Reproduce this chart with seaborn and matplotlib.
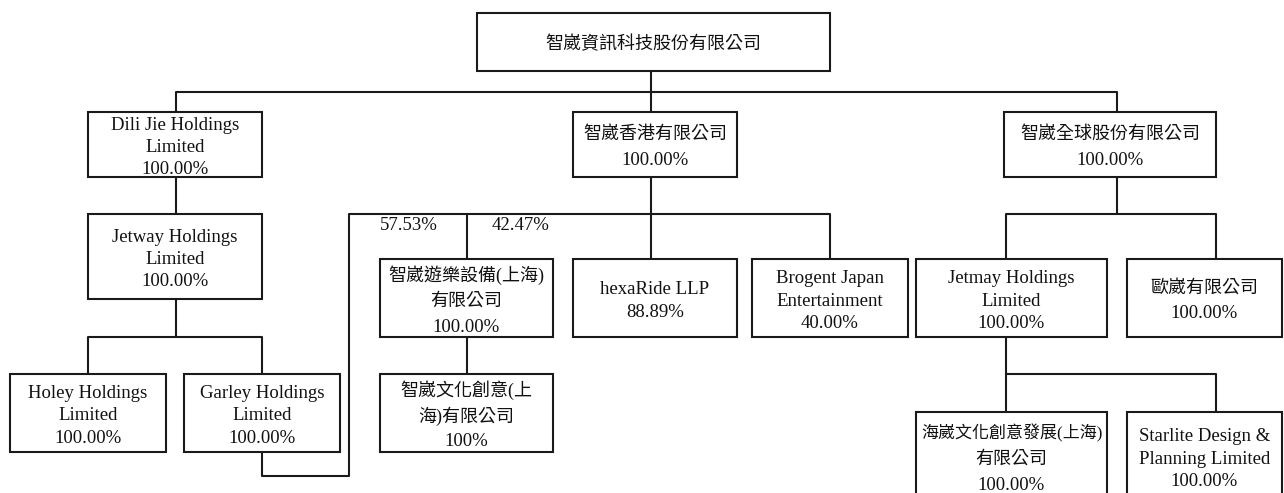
import pandas as pd
import seaborn as sns
import matplotlib.pyplot as plt
from matplotlib.patches import Rectangle

# company names and holdings
names = [
    '智崴資訊科技股份有限公司',
    'Dili Jie Holdings\nLimited', '智崴香港有限公司', '智崴全球股份有限公司',
    'Jetway Holdings\nLimited', '智崴遊樂設備(上海)\n有限公司', 'hexaRide LLP',
    'Brogent Japan\nEntertainment', 'Jetmay Holdings\nLimited', '歐崴有限公司',
    'Holey Holdings\nLimited', 'Garley Holdings\nLimited', '智崴文化創意(上\n海)有限公司',
    '海崴文化創意發展(上海)\n有限公司', 'Starlite Design &\nPlanning Limited',
]
holdings = [
    '', '100.00%', '100.00%', '100.00%',
    '100.00%', '100.00%', '88.89%',
    '40.00%', '100.00%', '100.00%',
    '100.00%', '100.00%', '100%',
    '100.00%', '100.00%',
]
split_labels = ['57.53%', '42.47%']

# layout: box extents in pixels (x0, x1, y0, y1)
boxes = [
    (477, 830, 13, 71),
    (88, 262, 112, 177), (573, 737, 112, 177), (1004, 1216, 112, 177),
    (88, 262, 214, 299), (380, 553, 259, 337), (573, 737, 259, 337),
    (752, 908, 259, 337), (916, 1107, 259, 337), (1127, 1282, 259, 337),
    (10, 166, 374, 452), (184, 340, 374, 452), (380, 553, 374, 452),
    (916, 1107, 412, 500), (1127, 1282, 412, 500),
]

# connector polylines
links = [
    [(651, 71), (651, 92)],
    [(176, 112), (176, 92), (1117, 92), (1117, 112)],
    [(651, 92), (651, 112)],
    [(176, 177), (176, 214)],
    [(176, 299), (176, 337)],
    [(88, 374), (88, 337), (262, 337), (262, 374)],
    [(262, 452), (262, 476), (349, 476), (349, 214), (830, 214), (830, 259)],
    [(651, 177), (651, 259)],
    [(467, 214), (467, 259)],
    [(467, 337), (467, 374)],
    [(1117, 177), (1117, 214)],
    [(1006, 259), (1006, 214), (1216, 214), (1216, 259)],
    [(1006, 337), (1006, 412)],
    [(1006, 374), (1216, 374), (1216, 412)],
]
split_pos = [(409, 226), (521, 226)]

sns.set_theme(style='white')
plt.rcParams['font.family'] = ['Liberation Serif', 'Noto Sans CJK TC', 'DejaVu Sans']

fig = plt.figure(figsize=(12.84, 4.93), dpi=100)
ax = fig.add_axes([0, 0, 1, 1])
ax.set_xlim(0, 1284)
ax.set_ylim(493, 0)

rows = []
for i, seg in enumerate(links):
    for j, (x, y) in enumerate(seg):
        rows.append({'seg': i, 'order': j, 'x': x, 'y': y})
df = pd.DataFrame(rows)
sns.lineplot(data=df, x='x', y='y', units='seg', estimator=None, sort=False,
             color='#1a1a1a', linewidth=1.5, ax=ax, legend=False)


def is_cjk(s):
    return any(ord(c) > 0x2e80 for c in s)


renderer = fig.canvas.get_renderer()
for (x0, x1, y0, y1), name, pct in zip(boxes, names, holdings):
    ax.add_patch(Rectangle((x0, y0), x1 - x0, y1 - y0, facecolor='white',
                           edgecolor='#1a1a1a', linewidth=1.5, zorder=3))
    lines = name.split('\n') + ([pct] if pct else [])
    gaps = [26 if is_cjk(a) else 22.5 for a in lines[:-1]]
    total = sum(gaps)
    cy = (y0 + y1) / 2 - total / 2 + 3
    for k, s in enumerate(lines):
        fs = 13 if is_cjk(s) else 13.5
        t = ax.text((x0 + x1) / 2, cy, s, ha='center', va='center', fontsize=fs,
                    color='#111111', zorder=4)
        w = t.get_window_extent(renderer).width
        if w > (x1 - x0) - 10:
            t.set_fontsize(fs * ((x1 - x0) - 10) / w)
        if k < len(gaps):
            cy += gaps[k]

for (x, y), s in zip(split_pos, split_labels):
    ax.text(x, y, s, ha='center', va='center', fontsize=13.5, color='#111111')

ax.axis('off')
fig.savefig('out.png', dpi=100)
